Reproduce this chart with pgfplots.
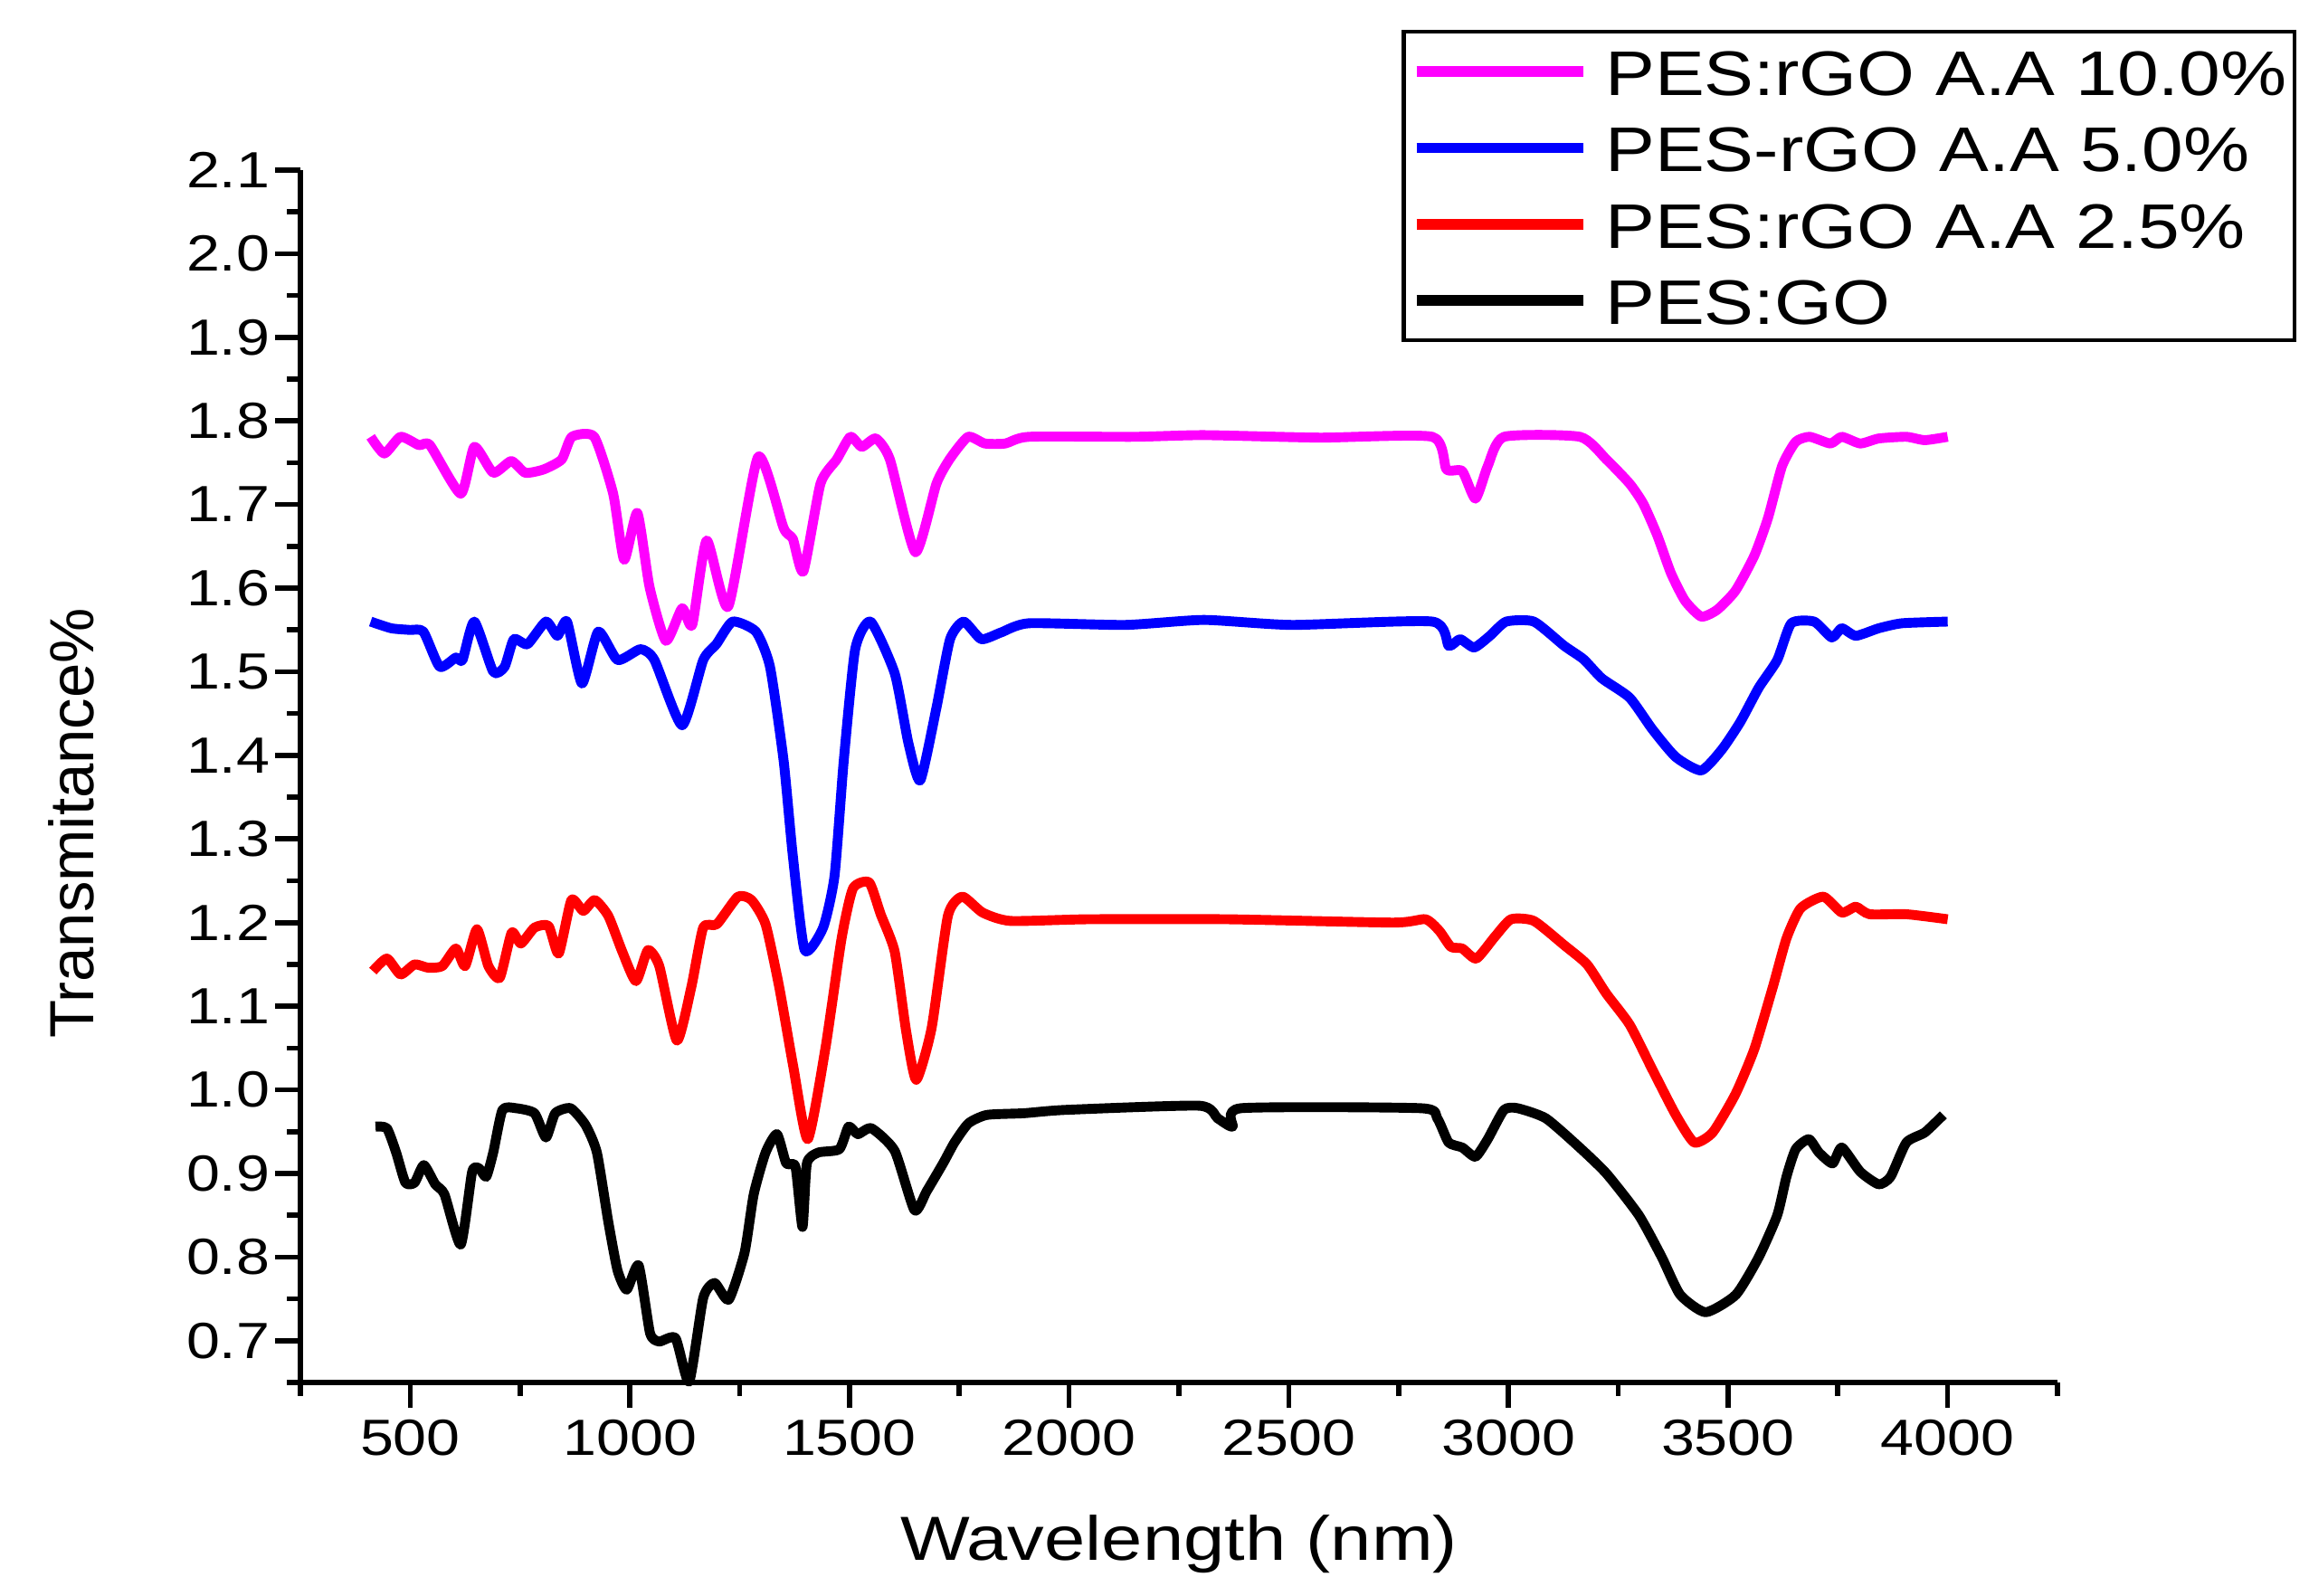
\documentclass[border=0pt]{standalone}
\usepackage{fontspec}
\setmainfont{Liberation Sans}
\newfontfamily\wide[FakeStretch=1.18]{Liberation Sans}
\usepackage{pgfplots}
\pgfplotsset{compat=1.18}
\definecolor{mag}{RGB}{255,0,255}
\definecolor{blu}{RGB}{0,0,255}
\definecolor{rd}{RGB}{255,0,0}
\begin{document}
\begin{tikzpicture}[x=1mm,y=1mm]
\path[use as bounding box] (0,0) rectangle (255.2,176.4);
\begin{axis}[
  at={(33.2mm,23.6mm)}, anchor=south west,
  scale only axis, width=194.2mm, height=134mm,
  xmin=250, xmax=4250, ymin=0.65, ymax=2.1,
  axis x line*=bottom, axis y line*=left,
  clip=false,
  xtick={500,1000,1500,2000,2500,3000,3500,4000},
  xticklabels={500,1000,1500,2000,2500,3000,3500,4000},
  minor xtick={250,750,1250,1750,2250,2750,3250,3750,4250},
  ytick={0.7,0.8,0.9,1.0,1.1,1.2,1.3,1.4,1.5,1.6,1.7,1.8,1.9,2.0,2.1},
  yticklabels={0.7,0.8,0.9,1.0,1.1,1.2,1.3,1.4,1.5,1.6,1.7,1.8,1.9,2.0,2.1},
  minor ytick={0.65,0.75,0.85,0.95,1.05,1.15,1.25,1.35,1.45,1.55,1.65,1.75,1.85,1.95,2.05},
  tick align=outside,
  major tick length=2.8mm, minor tick length=1.5mm,
  every tick/.style={line width=1.6pt, black},
  axis line style={line width=1.7pt},
  ticklabel style={font={\wide\fontsize{16}{18}\selectfont}},
  yticklabel style={inner sep=0pt, anchor=east, xshift=-0.5mm},
  xticklabel style={inner sep=0pt, anchor=north, yshift=-1.3mm},
  every axis x label/.style={at={(axis description cs:0.5,-0.147)}, anchor=base, font={\wide\fontsize{19.6}{21}\selectfont}},
  every axis y label/.style={at={(axis description cs:-0.1179,0.4612)}, rotate=90, anchor=base, font={\fontsize{19.6}{21}\selectfont}},
  xlabel={Wavelength (nm)},
  ylabel={Transmitance\%},
  legend cell align=left,
  legend style={at={(0.6267,1.1157)}, anchor=north west, draw=black, line width=1.3pt,
    font={\wide\fontsize{19.8}{22}\selectfont}, inner xsep=2.4pt, inner ysep=5pt,
    row sep=9pt, column sep=1.9mm,
    nodes={inner sep=0pt, text height=15pt, text depth=0pt}},
  legend image code/.code={\draw[#1, line width=3.3pt] (0mm,0mm) -- (18.4mm,0mm);},
  every axis plot/.append style={line width=3.1pt, line join=round, smooth, tension=0.35},
]
\addplot[mag] coordinates {
(410,1.781)(441,1.761)(478,1.781)(520,1.771)(545,1.771)(615,1.713)(646,1.769)(689,1.738)
(730,1.752)(762,1.738)(804,1.742)(845,1.754)(868,1.781)(919,1.781)(962,1.713)(987,1.634)
(1017,1.690)(1045,1.601)(1082,1.537)(1119,1.576)(1142,1.556)(1175,1.657)(1224,1.578)
(1292,1.757)(1350,1.672)(1371,1.659)(1395,1.620)(1434,1.725)(1471,1.754)(1502,1.781)
(1528,1.769)(1560,1.779)(1592,1.754)(1650,1.643)(1698,1.725)(1729,1.755)(1770,1.781)
(1808,1.773)(1855,1.773)(1908,1.781)(2149,1.781)(2307,1.783)(2570,1.780)(2827,1.781)
(2859,1.742)(2895,1.740)(2925,1.707)(2953,1.746)(2990,1.781)(3163,1.781)(3223,1.754)
(3276,1.725)(3307,1.701)(3339,1.663)(3370,1.618)(3402,1.585)(3439,1.566)(3475,1.574)
(3517,1.597)(3560,1.639)(3591,1.684)(3623,1.746)(3654,1.775)(3686,1.781)(3733,1.773)
(3759,1.781)(3801,1.773)(3843,1.779)(3906,1.781)(3948,1.777)(4000,1.781)
};
\addlegendentry{PES:rGO A.A 10.0\%}
\addplot[blu] coordinates {
(410,1.560)(457,1.552)(499,1.550)(530,1.548)(567,1.506)(604,1.517)(619,1.514)(646,1.560)
(689,1.500)(715,1.506)(736,1.539)(767,1.533)(809,1.560)(835,1.543)(857,1.560)(891,1.486)
(928,1.548)(972,1.514)(1024,1.527)(1056,1.514)(1119,1.436)(1167,1.514)(1197,1.533)
(1234,1.560)(1287,1.548)(1319,1.506)(1350,1.394)(1371,1.280)(1398,1.167)(1440,1.194)
(1466,1.256)(1487,1.394)(1513,1.527)(1548,1.560)(1603,1.498)(1634,1.415)(1661,1.370)
(1698,1.457)(1729,1.539)(1760,1.560)(1800,1.539)(1845,1.547)(1908,1.558)(2128,1.556)
(2307,1.562)(2507,1.556)(2827,1.560)(2864,1.531)(2890,1.539)(2922,1.529)(2958,1.543)
(2995,1.560)(3058,1.560)(3127,1.531)(3171,1.515)(3213,1.492)(3276,1.469)(3328,1.431)
(3381,1.398)(3439,1.382)(3486,1.407)(3528,1.440)(3570,1.481)(3612,1.514)(3644,1.558)
(3696,1.560)(3736,1.541)(3759,1.552)(3791,1.543)(3843,1.552)(3896,1.558)(4000,1.560)
};
\addlegendentry{PES-rGO A.A 5.0\%}
\addplot[rd] coordinates {
(415,1.142)(447,1.157)(478,1.138)(510,1.150)(541,1.146)(573,1.148)(604,1.169)(625,1.148)
(652,1.192)(678,1.148)(704,1.134)(731,1.188)(752,1.175)(783,1.194)(815,1.196)(838,1.163)
(867,1.227)(894,1.214)(920,1.227)(951,1.208)(983,1.165)(1014,1.130)(1041,1.167)(1067,1.148)
(1107,1.059)(1140,1.123)(1167,1.194)(1198,1.198)(1246,1.231)(1277,1.227)(1309,1.198)
(1340,1.123)(1372,1.028)(1405,0.941)(1445,1.049)(1482,1.181)(1508,1.241)(1545,1.248)
(1571,1.210)(1603,1.165)(1629,1.070)(1652,1.012)(1687,1.074)(1724,1.208)(1757,1.231)
(1803,1.212)(1866,1.202)(2044,1.204)(2359,1.204)(2738,1.200)(2811,1.204)(2843,1.190)
(2869,1.171)(2895,1.169)(2927,1.157)(2969,1.183)(3006,1.204)(3058,1.202)(3127,1.173)
(3179,1.150)(3223,1.115)(3276,1.078)(3328,1.024)(3381,0.970)(3423,0.937)(3465,0.949)
(3517,0.995)(3560,1.049)(3602,1.123)(3633,1.181)(3665,1.217)(3717,1.231)(3759,1.212)
(3791,1.219)(3822,1.210)(3906,1.210)(4000,1.204)
};
\addlegendentry{PES:rGO A.A 2.5\%}
\addplot[black] coordinates {
(421,0.956)(447,0.954)(468,0.925)(489,0.889)(510,0.889)(531,0.910)(557,0.887)(578,0.875)
(615,0.815)(641,0.902)(657,0.906)(673,0.896)(689,0.925)(710,0.976)(741,0.978)(783,0.972)
(809,0.943)(830,0.972)(865,0.978)(899,0.958)(925,0.925)(951,0.842)(972,0.784)(993,0.761)
(1020,0.790)(1046,0.709)(1067,0.699)(1104,0.703)(1135,0.651)(1167,0.751)(1193,0.769)
(1225,0.749)(1261,0.805)(1282,0.875)(1309,0.925)(1335,0.947)(1356,0.912)(1377,0.908)
(1393,0.836)(1403,0.912)(1429,0.925)(1477,0.929)(1498,0.956)(1519,0.947)(1550,0.954)
(1603,0.927)(1648,0.856)(1676,0.879)(1713,0.912)(1739,0.937)(1771,0.960)(1813,0.970)
(1897,0.972)(1992,0.976)(2296,0.981)(2338,0.966)(2372,0.956)(2391,0.978)(2801,0.978)
(2838,0.966)(2864,0.937)(2895,0.931)(2925,0.920)(2953,0.941)(2990,0.976)(3021,0.978)
(3085,0.966)(3158,0.933)(3223,0.900)(3297,0.850)(3349,0.800)(3391,0.755)(3449,0.734)
(3518,0.755)(3570,0.800)(3612,0.850)(3633,0.896)(3654,0.929)(3684,0.941)(3707,0.925)
(3738,0.912)(3759,0.931)(3801,0.902)(3843,0.887)(3870,0.896)(3906,0.937)(3948,0.949)
(3990,0.970)
};
\addlegendentry{PES:GO}
\end{axis}
\end{tikzpicture}
\end{document}
